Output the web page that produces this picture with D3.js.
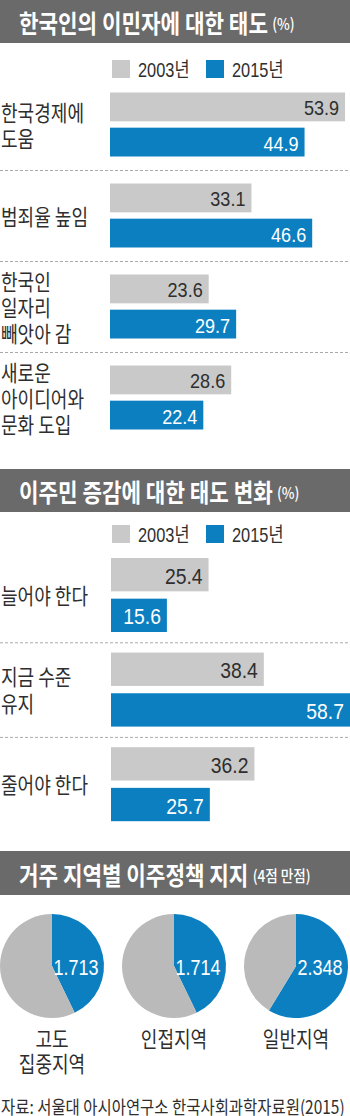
<!DOCTYPE html>
<html><head><meta charset="utf-8">
<script src="https://cdn.jsdelivr.net/npm/d3@7"></script>
<style>
html,body{margin:0;padding:0;background:#fff;}
svg{display:block;}
.kr{font-family:"Noto Sans CJK KR","Noto Sans",sans-serif;}
.num{font-family:"Liberation Sans","Noto Sans CJK KR",sans-serif;}
</style></head>
<body>
<svg id="c" width="350" height="1116"></svg>
<script>
// ---- data ----
const titles = ["한국인의 이민자에 대한 태도", "이주민 증감에 대한 태도 변화", "거주 지역별 이주정책 지지"];
const titleUnits = ["(%)", "(%)", "(4점 만점)"];
const seriesNames = ["2003년", "2015년"];

const cats1 = [["한국경제에","도움"], ["범죄율 높임"], ["한국인","일자리","빼앗아 감"], ["새로운","아이디어와","문화 도입"]];
const vals1_2003 = [53.9, 33.1, 23.6, 28.6];
const vals1_2015 = [44.9, 46.6, 29.7, 22.4];

const cats2 = [["늘어야 한다"], ["지금 수준","유지"], ["줄어야 한다"]];
const vals2_2003 = [25.4, 38.4, 36.2];
const vals2_2015 = [15.6, 58.7, 25.7];

const regions = [["고도","집중지역"], ["인접지역"], ["일반지역"]];
const regionScores = [1.713, 1.714, 2.348];
const maxScore = 4;

const source = "자료: 서울대 아시아연구소 한국사회과학자료원(2015)";

// ---- style ----
const GRAY = "#c9c9c9", PIEGRAY = "#bababa", BLUE = "#0c7fc1", BAND = "#6a6a6a", TEXT = "#2e2e2e";
const SX = 0.84;
const svg = d3.select("#c");

function ctext(x, y, cls, sx){
  const g = svg.append("g").attr("transform", `translate(${x},${y}) scale(${sx==null?SX:sx},1)`);
  return g.append("text").attr("class", cls);
}

function titleBand(y0, h, i){
  svg.append("rect").attr("x",0).attr("y",y0).attr("width",350).attr("height",h).attr("fill",BAND);
  const t = ctext(19, y0+h/2+1, "kr", 0.85).attr("dominant-baseline","central").attr("fill","#fff");
  t.append("tspan").attr("font-size",25).attr("font-weight",700).text(titles[i]);
  t.append("tspan").attr("font-size",16).attr("dx",5).attr("font-weight",500).text(titleUnits[i]);
}

function legend(y){
  const lx = d3.scaleOrdinal().domain(seriesNames).range([112, 206]);
  seriesNames.forEach((s,i)=>{
    svg.append("rect").attr("x",lx(s)).attr("y",y).attr("width",18).attr("height",18).attr("fill", i?BLUE:GRAY);
    ctext(lx(s)+26, y+9.5, "num", 0.82).attr("dominant-baseline","central").attr("font-size",20)
      .attr("fill",TEXT).text(s);
  });
}

function barSection(cats, v03, v15, yRange, xRange, barX0, innerHalf, lineH, labelSize){
  const y = d3.scaleBand().domain(d3.range(cats.length)).range(yRange);
  const inner = d3.scaleBand().domain(seriesNames).range([-innerHalf, innerHalf]).paddingInner(0.18);
  const x = d3.scaleLinear().domain([0,50]).range(xRange);
  svg.append("g").selectAll("line").data(d3.range(1,cats.length)).join("line")
    .attr("x1",0).attr("x2",350).attr("y1",d=>y(d)+0.5).attr("y2",d=>y(d)+0.5)
    .attr("stroke","#aaa").attr("stroke-width",1).attr("stroke-dasharray","3,2");
  cats.forEach((lines,i)=>{
    const c = y(i)+y.bandwidth()/2;
    const t = ctext(1, c, "kr").attr("fill",TEXT).attr("font-size",21.5);
    lines.forEach((l,k)=>{
      t.append("tspan").attr("x",0).attr("y", (k-(lines.length-1)/2)*lineH)
        .attr("dominant-baseline","central").text(l);
    });
    const vals = [v03[i], v15[i]];
    seriesNames.forEach((s,j)=>{
      const by = c + inner(s);
      const xe = Math.min(350, x(vals[j]));
      svg.append("rect").attr("x",barX0).attr("y",by).attr("width",xe-barX0)
        .attr("height",inner.bandwidth()).attr("fill", j?BLUE:GRAY);
      ctext(xe-6, by+inner.bandwidth()/2+1, "num", 0.86)
        .attr("text-anchor","end").attr("dominant-baseline","central").attr("font-size",labelSize)
        .attr("fill", j?"#fff":TEXT).text(vals[j].toFixed(1));
    });
  });
}

// Section 1
titleBand(0, 43, 0);
legend(60);
barSection(cats1, vals1_2003, vals1_2015, [79, 443], [102.5, 327.5], 110, 32, 26, 21);

// Section 2
titleBand(469, 43, 1);
legend(525);
barSection(cats2, vals2_2003, vals2_2015, [547.7, 831.5], [100.6, 313.1], 111, 37, 27, 22.5);

// Section 3
titleBand(851, 44, 2);
const px = d3.scalePoint().domain(d3.range(regions.length)).range([52, 296]);
const pieY = 966, R = 52;
const pie = d3.pie().sort(null).value(d=>d);
const arc = d3.arc().innerRadius(0).outerRadius(R);
regions.forEach((lines,i)=>{
  const g = svg.append("g").attr("transform",`translate(${px(i)},${pieY})`);
  g.selectAll("path").data(pie([regionScores[i], maxScore-regionScores[i]])).join("path")
    .attr("d",arc).attr("fill",(d,k)=>k?PIEGRAY:BLUE);
  ctext(px(i)+24, pieY+1, "num", 0.8).attr("text-anchor","middle")
    .attr("dominant-baseline","central").attr("font-size",22.5).attr("fill","#fff").text(regionScores[i].toFixed(3));
  const t = ctext(px(i), 1037.5, "kr").attr("text-anchor","middle").attr("font-size",21.5).attr("fill",TEXT);
  lines.forEach((l,k)=>{
    t.append("tspan").attr("x",0).attr("y",k*25.5).attr("dominant-baseline","central").text(l);
  });
});

const ft = ctext(1, 1106, "kr", 1).attr("dominant-baseline","central").attr("font-size",18.5).attr("fill",TEXT).text(source);
const fw = ft.node().getComputedTextLength();
d3.select(ft.node().parentNode).attr("transform", `translate(1,1106) scale(${344/fw},1)`);
</script>
</body></html>
